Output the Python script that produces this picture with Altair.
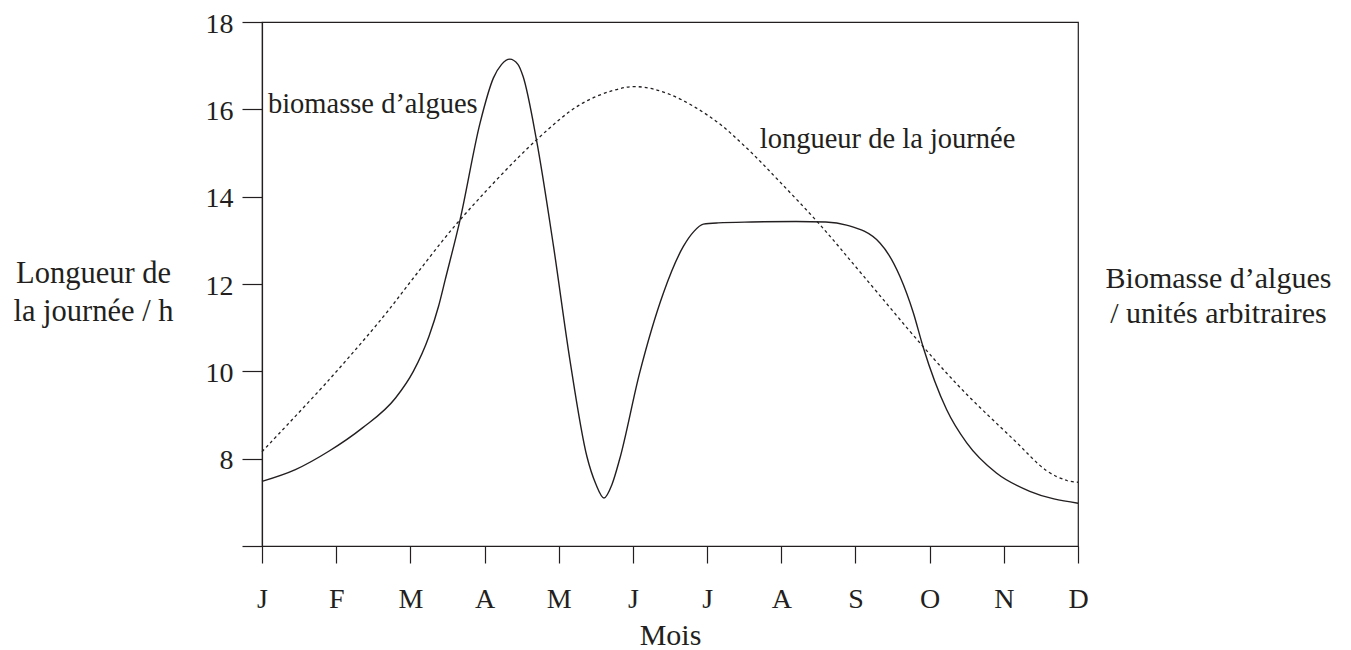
import altair as alt
import pandas as pd

# ---- data ----
months = ["J", "F", "M", "A", "M", "J", "J", "A", "S", "O", "N", "D"]

biomass_x = [0, 0.45, 0.9, 1.35, 1.8, 2.04, 2.25, 2.38, 2.47, 2.67, 2.94, 3.12, 3.23, 3.34,
             3.45, 3.52, 3.70, 3.93, 4.15, 4.38, 4.50, 4.61, 4.72, 4.82, 5.09, 5.41, 5.68,
             5.82, 5.95, 6.15, 6.6, 7.2, 7.6, 7.88, 8.33, 8.6, 8.78, 8.91, 9.23, 9.5, 9.9,
             10.35, 11]
biomass_y = [7.48, 7.75, 8.17, 8.70, 9.39, 10.0, 10.8, 11.49, 12.1, 13.47, 15.69, 16.72, 17.03, 17.15,
             17.03, 16.75, 15.30, 12.86, 10.27, 8.05, 7.42, 7.10, 7.42, 7.98, 9.96, 11.79, 12.86,
             13.2, 13.37, 13.40, 13.42, 13.43, 13.42, 13.35, 12.94, 12.17, 11.34, 10.57, 9.12, 8.36, 7.67,
             7.25, 6.98]

day_x = [0, 0.9, 1.63, 2.07, 2.67, 3.70, 4.29, 4.73, 5.05, 5.5, 6.08, 6.53, 6.98, 7.52,
         8.10, 8.91, 9.45, 10.13, 10.58, 10.85, 11]
day_y = [8.16, 9.8, 11.24, 12.2, 13.47, 15.30, 16.11, 16.43, 16.52, 16.34, 15.78, 15.12, 14.34, 13.36,
         12.2, 10.57, 9.56, 8.44, 7.72, 7.5, 7.46]

label_text = ["biomasse d\u2019algues", "longueur de la journée"]
label_x = [0.08, 6.71]
label_y = [15.92, 15.12]

y_ticks = [6, 8, 10, 12, 14, 16, 18]
left_title = ["Longueur de", "la journée / h"]
right_title = ["Biomasse d\u2019algues", "/ unités arbitraires"]
x_title = "Mois"

INK = "#231f20"
FONT = "Liberation Serif"

bio = pd.DataFrame({"x": biomass_x, "y": biomass_y})
day = pd.DataFrame({"x": day_x, "y": day_y})
lab = pd.DataFrame({"x": label_x, "y": label_y, "t": label_text})

month_expr = "[" + ",".join("'%s'" % m for m in months) + "][datum.value]"

xscale = alt.Scale(domain=[0, 11], nice=False, zero=False)
yscale = alt.Scale(domain=[6, 18], nice=False, zero=False)

xaxis = alt.Axis(
    values=list(range(len(months))), labelExpr=month_expr, title=x_title,
    grid=False, tickSize=17, tickColor=INK, tickWidth=1.2,
    domainColor=INK, domainWidth=1.2,
    labelFont=FONT, labelFontSize=28, labelColor=INK, labelPadding=22,
    labelFlush=False, labelOverlap=False, labelAngle=0,
    titleFont=FONT, titleFontSize=30, titleFontWeight="normal", titleColor=INK,
    titleBaseline="alphabetic", titleY=98,
)

yaxis_left = alt.Axis(
    values=y_ticks, labelExpr="datum.value == 6 ? '' : datum.label",
    grid=False, tickSize=20, tickColor=INK, tickWidth=1.2,
    domainColor=INK, domainWidth=1.2,
    labelFont=FONT, labelFontSize=28, labelColor=INK, labelPadding=9,
    labelOffset=2, labelFlush=False, labelOverlap=False,
    title=left_title, titleAngle=0, titleAlign="center", titleBaseline="alphabetic",
    titleX=-169, titleY=260, titleLineHeight=38,
    titleFont=FONT, titleFontSize=30.5, titleFontWeight="normal", titleColor=INK,
)

yaxis_right = alt.Axis(
    orient="right", labels=False, ticks=False, domain=False, grid=False,
    title=right_title, titleAngle=0, titleAlign="center", titleBaseline="alphabetic",
    titleX=140, titleY=265, titleLineHeight=35,
    titleFont=FONT, titleFontSize=30, titleFontWeight="normal", titleColor=INK,
)

X = alt.X("x:Q", scale=xscale, axis=xaxis)

bio_line = alt.Chart(bio).mark_line(
    color=INK, strokeWidth=1.4, interpolate="monotone"
).encode(
    x=X,
    y=alt.Y("y:Q", scale=yscale, axis=yaxis_left),
)

day_line = alt.Chart(day).mark_line(
    color=INK, strokeWidth=1.3, strokeDash=[3, 3], interpolate="catmull-rom"
).encode(
    x=X,
    y=alt.Y("y:Q", scale=yscale, axis=yaxis_right),
)

labels = alt.Chart(lab).mark_text(
    font=FONT, fontSize=28.5, color=INK, align="left", baseline="alphabetic"
).encode(
    x=X,
    y=alt.Y("y:Q", scale=yscale, axis=None),
    text="t:N",
)

chart = alt.layer(bio_line, day_line, labels).resolve_axis(
    y="independent"
).properties(
    width=816, height=524,
    autosize=alt.AutoSizeParams(type="none"),
    padding={"left": 254, "top": 14, "right": 265, "bottom": 104},
    background="white",
).configure_view(stroke=INK, strokeWidth=1.2)

chart.save("out.html", embed_options={"renderer": "svg", "actions": False})
